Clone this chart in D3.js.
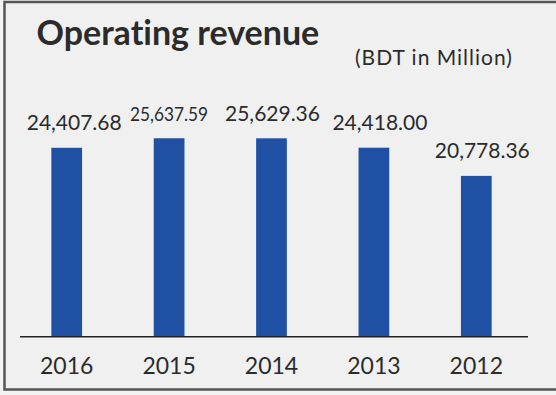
<!DOCTYPE html>
<html>
<head>
<meta charset="utf-8">
<script src="https://cdn.jsdelivr.net/npm/d3@7/dist/d3.min.js"></script>
<style>
  html, body { margin: 0; padding: 0; background: #f3f3f3; }
  svg { display: block; }
  text { font-family: Lato, "Open Sans", sans-serif; fill: #2b2b2b; font-variant-ligatures: none; }
</style>
</head>
<body>
<script>
// Operating revenue by year, BDT in million
const years = ["2016", "2015", "2014", "2013", "2012"];
const revenue = [24407.68, 25637.59, 25629.36, 24418.00, 20778.36];
const valueLabels = ["24,407.68", "25,637.59", "25,629.36", "24,418.00", "20,778.36"];

const W = 556, H = 395;
const baseY = 336.7;

// small horizontal nudges so value labels sit as laid out in the panel
const labelDx = [7.5, 0, 1, 6, 6];

const svg = d3.select("body").append("svg")
  .attr("width", W).attr("height", H);

// panel background and frame
svg.append("rect")
  .attr("x", 4.5).attr("y", 2).attr("width", W + 10).attr("height", 387.5)
  .attr("fill", "#f0f0f0")
  .attr("stroke", "#555").attr("stroke-width", 2.5);

const x = d3.scaleBand()
  .domain(years)
  .range([15.5, 527.5])
  .paddingInner(0.7)
  .paddingOuter(0.35);

const y = d3.scaleLinear()
  .domain([0, 30000])
  .range([baseY, baseY - 232.2]);

// bars
svg.append("g").selectAll("rect")
  .data(revenue)
  .join("rect")
  .attr("x", (d, i) => x(years[i]))
  .attr("y", d => y(d))
  .attr("width", x.bandwidth())
  .attr("height", d => baseY - y(d))
  .attr("fill", "#1f50a3");

// baseline
svg.append("line")
  .attr("x1", 20).attr("x2", 528)
  .attr("y1", baseY).attr("y2", baseY)
  .attr("stroke", "#222").attr("stroke-width", 1.5);

// category axis (labels only)
const xAxis = svg.append("g")
  .attr("transform", `translate(0,${baseY})`)
  .call(d3.axisBottom(x).tickSize(0).tickPadding(0));
xAxis.select(".domain").remove();
xAxis.selectAll("text")
  .attr("y", 37.5)
  .attr("dy", null)
  .style("font-family", "Lato, sans-serif")
  .style("font-size", "23px")
  .attr("fill", "#2b2b2b");

// value labels above bars
svg.append("g").selectAll("text")
  .data(revenue)
  .join("text")
  .attr("x", (d, i) => x(years[i]) + x.bandwidth() / 2 + labelDx[i])
  .attr("y", d => y(d) - 17.5)
  .attr("text-anchor", "middle")
  .style("font-size", (d, i) => i === 1 ? "20px" : "21px")
  .attr("textLength", (d, i) => i === 1 ? 78 : null)
  .attr("lengthAdjust", "spacingAndGlyphs")
  .text((d, i) => valueLabels[i]);

// title and unit note
svg.append("text")
  .attr("x", 36.5).attr("y", 45)
  .style("font-size", "34px").style("font-weight", "bold")
  .attr("fill", "#1e1e1e")
  .text("Operating revenue");

svg.append("text")
  .attr("x", 355).attr("y", 65)
  .style("font-size", "21px")
  .style("letter-spacing", "1px")
  .text("(BDT in Million)");
</script>
</body>
</html>
